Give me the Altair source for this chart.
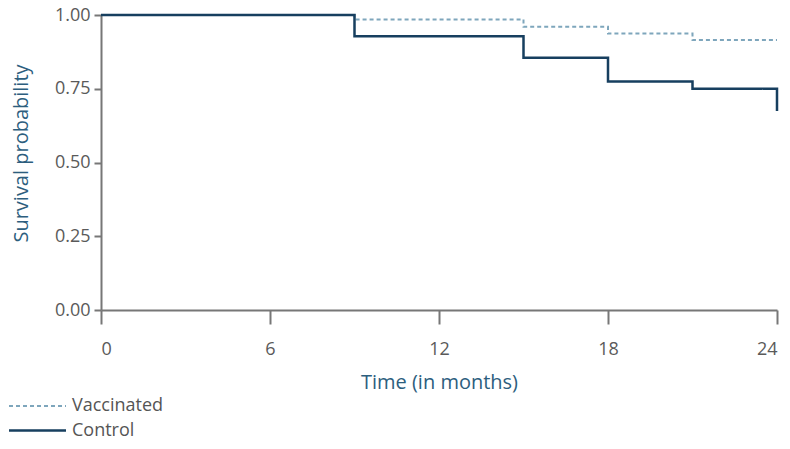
import altair as alt
import pandas as pd

groups = ["Vaccinated", "Control"]
vacc_t = [0, 9, 15, 18, 21, 24]
vacc_s = [1.0, 0.985, 0.96, 0.937, 0.915, 0.915]
ctrl_t = [0, 9, 15, 18, 21, 24]
ctrl_s = [1.0, 0.928, 0.855, 0.775, 0.75, 0.675]

rows = []
for t, s in zip(vacc_t, vacc_s):
    rows.append({"time": t, "surv": s, "group": "Vaccinated"})
for t, s in zip(ctrl_t, ctrl_s):
    rows.append({"time": t, "surv": s, "group": "Control"})
df = pd.DataFrame(rows)

FONT = "Open Sans"

chart = alt.Chart(df).mark_line(interpolate="step-after").encode(
    x=alt.X("time:Q", title="Time (in months)",
            scale=alt.Scale(domain=[0, 24], nice=False),
            axis=alt.Axis(values=[0, 6, 12, 18, 24], grid=False, tickSize=14,
                          labelPadding=16, titlePadding=14)),
    y=alt.Y("surv:Q", title="Survival probability",
            scale=alt.Scale(domain=[0, 1], nice=False),
            axis=alt.Axis(values=[0, 0.25, 0.5, 0.75, 1.0], format=".2f", grid=False,
                          tickSize=7, labelPadding=4, titlePadding=23, titleY=138)),
    color=alt.Color("group:N", sort=groups,
                    scale=alt.Scale(domain=groups, range=["#7ea6bc", "#173f5f"]),
                    legend=alt.Legend(title=None, orient="none", legendX=-93, legendY=380,
                                      symbolType="M-2.85,0H2.85", symbolSize=400,
                                      symbolOffset=18,
                                      symbolStrokeWidth=2.5, labelFontSize=18,
                                      labelFont=FONT, labelColor="#555555",
                                      rowPadding=4, labelOffset=23)),
    strokeDash=alt.StrokeDash("group:N", sort=groups,
                              scale=alt.Scale(domain=groups, range=[[4, 3], [1, 0]]),
                              legend=None),
    strokeWidth=alt.StrokeWidth("group:N", sort=groups,
                                scale=alt.Scale(domain=groups, range=[2, 2.5]),
                                legend=None),
).properties(
    width=676, height=295,
    autosize=alt.AutoSizeParams(type="none"),
    padding={"left": 93, "top": 7, "right": 5, "bottom": 131},
).configure_view(stroke=None).configure_axis(
    domainColor="#777777", domainWidth=2, tickColor="#777777", tickWidth=2,
    labelFont=FONT, labelFontSize=18, labelColor="#5a5a5a",
    titleFont=FONT, titleFontSize=20, titleFontWeight="normal", titleColor="#2d5e7e",
)

chart.save("out.html", embed_options={"renderer": "svg", "actions": False})
